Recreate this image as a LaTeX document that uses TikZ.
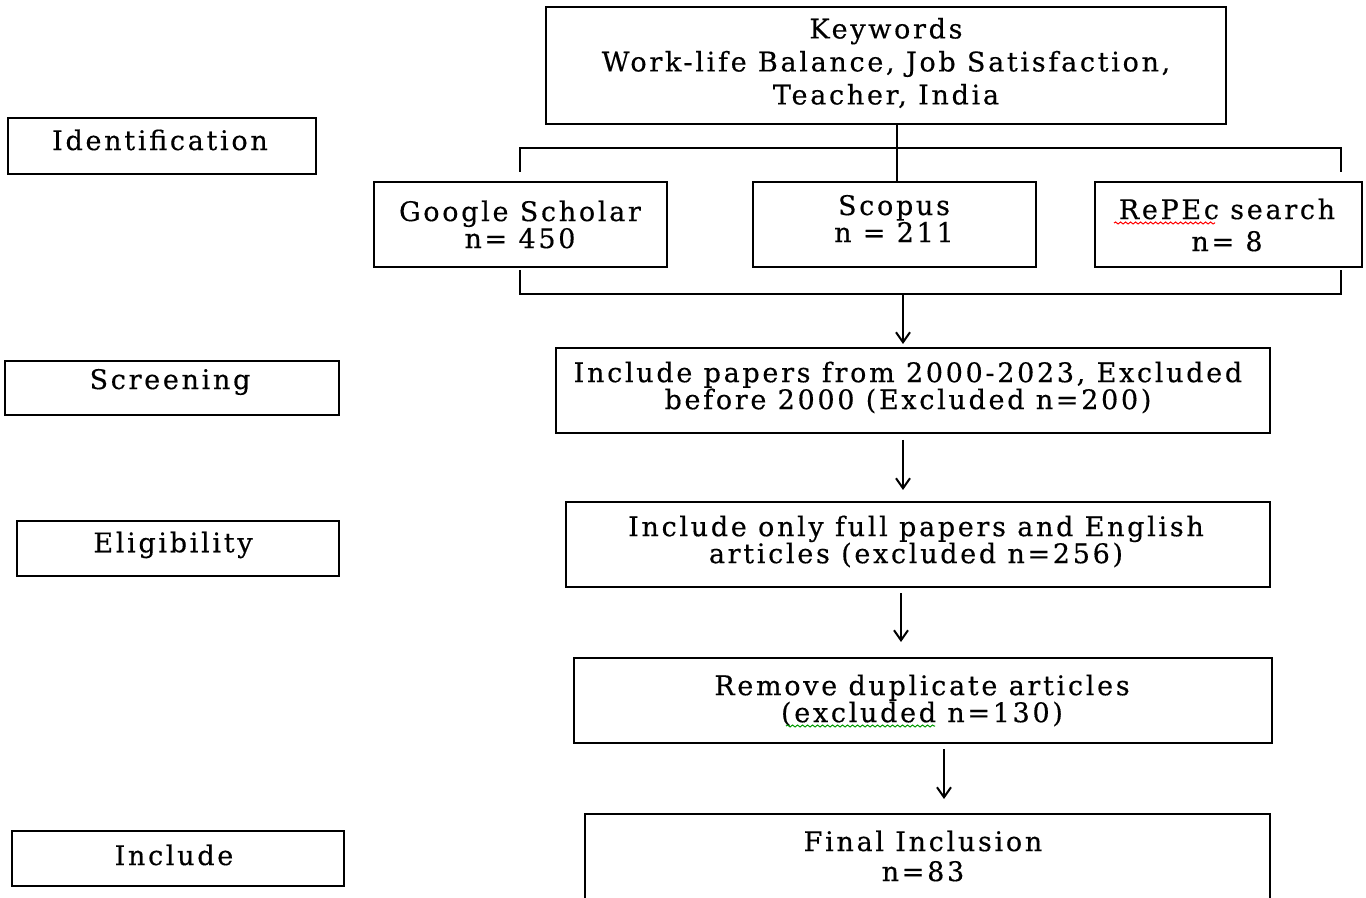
\documentclass[tikz,border=0pt]{standalone}
\usepackage{fontspec}
\setmainfont{DejaVu Serif}[LetterSpace=10,FakeBold=0.4]
\usetikzlibrary{arrows.meta,decorations.pathmorphing}
\begin{document}
\begin{tikzpicture}[x=0.5pt,y=-0.5pt,
  box/.style={draw, line width=1pt, inner sep=0pt},
  txt/.style={align=center, inner sep=0pt, font=\fontsize{13.5}{13.5}\selectfont},
  link/.style={line width=1pt},
  arr/.style={line width=1pt, -{Straight Barb[length=5pt,width=7pt,line width=1pt]}},
  wavy/.style={decorate, decoration={snake, amplitude=0.5pt, segment length=2.5pt}, line width=0.5pt}]
\useasboundingbox (0,0) rectangle (1366,898);

% boxes
\node[box, minimum width=340pt, minimum height=58.5pt] (kw) at (886,65.5) {};
\node[box, minimum width=154pt, minimum height=28pt] (ident) at (162,146) {};
\node[box, minimum width=146.5pt, minimum height=42.5pt] (gs) at (520.5,224.5) {};
\node[box, minimum width=141.5pt, minimum height=42.5pt] (sc) at (894.5,224.5) {};
\node[box, minimum width=133.5pt, minimum height=42.5pt] (re) at (1228.5,224.5) {};
\node[box, minimum width=167pt, minimum height=27pt] (scrlab) at (172,388) {};
\node[box, minimum width=357pt, minimum height=42.5pt] (scr) at (913,390.5) {};
\node[box, minimum width=161pt, minimum height=27.5pt] (elilab) at (178,548.5) {};
\node[box, minimum width=352pt, minimum height=42.5pt] (eli) at (918,544.5) {};
\node[box, minimum width=349pt, minimum height=42.5pt] (rem) at (923,700.5) {};
\node[box, minimum width=166pt, minimum height=27.5pt] (inclab) at (178,858.5) {};
\node[box, minimum width=342.5pt, minimum height=63pt] (fin) at (927.5,877) {};

% texts
\node[txt, font=\fontsize{13.5}{16.5}\selectfont] (kwt) at (886,63) {Keywords\\Work-life Balance, Job Satisfaction,\\Teacher, India};
\node[txt] (identt) at (160,140) {Identification};
\node[txt] (gst) at (520,224.5) {Google Scholar\\n= 450};
\node[txt] (sct) at (894,218.5) {Scopus\\n = 211};
\node[txt, font=\fontsize{13.5}{16}\selectfont] (ret) at (1227,225) {RePEc search\\n= 8};
\node[txt] (scrlabt) at (170,382) {Screening};
\node[txt] (scrt) at (908,387.5) {Include papers from 2000-2023, Excluded\\before 2000 (Excluded n=200)};
\node[txt] (elilabt) at (173,545) {Eligibility};
\node[txt] (elit) at (916,541.5) {Include only full papers and English\\articles (excluded n=256)};
\node[txt] (remt) at (922,700.5) {Remove duplicate articles\\(excluded n=130)};
\node[txt] (inclabt) at (174,855) {Include};
\node[txt, font=\fontsize{13.5}{15}\selectfont] (fint) at (923,856) {Final Inclusion\\n=83};

% top bracket
\coordinate (tc) at (897,148);
\coordinate (tl) at (520,172);
\coordinate (tr) at (1341,172);
\draw[link] (tc |- kw.south) -- (tc |- sc.north);
\draw[link] (tl) -- (tl |- tc) -- (tr |- tc) -- (tr);

% bottom bracket
\coordinate (bl) at (520,270);
\coordinate (br) at (1341,270);
\coordinate (bc) at (903,294);
\draw[link] (bl) -- (bl |- bc) -- (br |- bc) -- (br);

% arrows
\coordinate (a1) at (903,344);
\coordinate (a2s) at (903,440);
\coordinate (a2e) at (903,490);
\coordinate (a3s) at (901,593);
\coordinate (a3e) at (901,642);
\coordinate (a4s) at (944,749);
\coordinate (a4e) at (944,799);
\draw[arr] (bc) -- (a1);
\draw[arr] (a2s) -- (a2e);
\draw[arr] (a3s) -- (a3e);
\draw[arr] (a4s) -- (a4e);

% spell-check underlines
\draw[wavy, red] (1114,223) -- (1215,223);
\draw[wavy, green!60!black] (786,726) -- (935,726);
\end{tikzpicture}
\end{document}
